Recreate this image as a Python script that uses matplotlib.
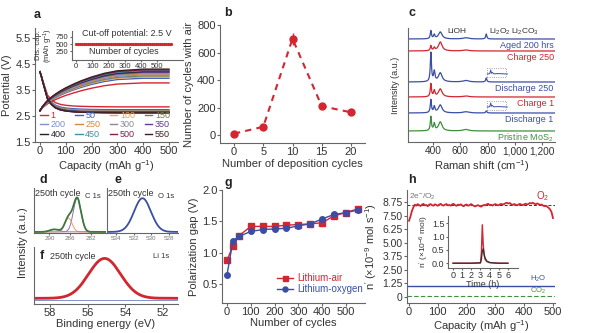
import numpy as np
import matplotlib
matplotlib.use("Agg")
import matplotlib.pyplot as plt
from matplotlib.patches import Rectangle

plt.rcParams['font.family'] = ['Liberation Sans', 'DejaVu Sans']
plt.rcParams['font.size'] = 8
plt.rcParams['axes.linewidth'] = 0.8
plt.rcParams['axes.edgecolor'] = '#666666'
plt.rcParams['axes.labelcolor'] = '#333333'
plt.rcParams['xtick.color'] = '#666666'
plt.rcParams['ytick.color'] = '#666666'
plt.rcParams['xtick.labelcolor'] = '#333333'
plt.rcParams['ytick.labelcolor'] = '#333333'
plt.rcParams['xtick.major.size'] = 2
plt.rcParams['ytick.major.size'] = 2
plt.rcParams['xtick.major.pad'] = 1.2
plt.rcParams['ytick.major.pad'] = 1.2
plt.rcParams['mathtext.default'] = 'regular'

RED = '#d22630'
BLUE = '#3b4ea6'
GREEN = '#3f8f3f'

# a: charge/discharge profiles (plateaus read at 500 mAh/g)
cycles_a = [1, 50, 100, 150, 200, 250, 300, 350, 400, 450, 500, 550]
colors_a = ['#d9262e', '#3d5fc0', '#eaa456', '#6f7f4f', '#7f8fcf', '#d5873a',
            '#8a8a9a', '#5f3f8f', '#202030', '#3f8fa6', '#7f1f50', '#3f2020']
charge_plateau = [3.77, 3.95, 4.00, 4.04, 4.08, 4.12, 4.15, 4.18, 4.21, 4.24, 4.27, 4.30]
discharge_plateau = [2.85, 2.74, 2.70, 2.69, 2.68, 2.67, 2.66, 2.65, 2.64, 2.63, 2.62, 2.62]
charge_start = 2.7
discharge_start = 4.2
cap_pts = [0, 5, 10, 20, 30, 45, 60, 80, 100, 130, 160, 200, 250, 300, 400, 500]
charge_shape = [0, 0.05, 0.1, 0.18, 0.25, 0.33, 0.4, 0.48, 0.55, 0.64, 0.72, 0.81, 0.9, 0.96, 1.0, 1.0]
discharge_shape = [1, 0.9, 0.78, 0.55, 0.33, 0.2, 0.12, 0.07, 0.045, 0.025, 0.015, 0.008, 0.003, 0, 0, 0]
inset_cycles = np.arange(1, 600, 12)
inset_cap = np.full(len(inset_cycles), 500)

# b
dep_cycles = [0, 5, 10, 15, 20]
air_cycles = [10, 60, 700, 210, 165]
air_err = [0, 0, 45, 0, 0]

# c: Raman peaks (position, width) and heights per trace
raman_labels = ['Aged 200 hrs', 'Charge 250', 'Discharge 250', 'Charge 1', 'Discharge 1', 'Pristine MoS$_2$']
raman_colors = [BLUE, RED, BLUE, RED, BLUE, GREEN]
raman_offset = [103, 91, 60, 45, 29, 11]
peak_pos = [383, 408, 452, 640, 790]
peak_w = [5, 6, 16, 25, 5]
peak_h = [[8, 4, 7, 1.2, 5],
          [5, 3, 9, 1.0, 0],
          [29, 10, 9, 1.5, 4],
          [13, 6, 8, 1.0, 0],
          [13, 6, 8, 1.2, 2],
          [14, 7, 9, 1.5, 0]]
box_base = [68, 35]
box_trace_x = [797, 815, 823, 828, 834, 845, 880, 945]
box_trace_y = [0, 0.3, 4.0, 0.8, 1.6, 0.2, 0.4, 0]

# d, e, f: XPS components (center, height, sigma)
c1s_center = [284.6, 286.3, 289.0]
c1s_height = [0.92, 0.38, 0.07]
c1s_sigma = [0.75, 0.7, 0.9]
c1s_colors = ['#8a6fc0', '#e8a060', '#c07090']
o1s = (531.0, 0.92, 0.95)
li1s = (55.1, 1.0, 0.85)

# g
cyc_g = [0, 25, 50, 100, 150, 200, 250, 300, 350, 400, 450, 500, 550]
gap_air = [0.88, 1.11, 1.27, 1.42, 1.42, 1.42, 1.44, 1.45, 1.46, 1.48, 1.59, 1.64, 1.70]
gap_oxy = [0.65, 1.19, 1.26, 1.34, 1.37, 1.38, 1.39, 1.43, 1.46, 1.54, 1.61, 1.64, 1.68]

# h
o2_rate = [7.05, 7.45, 7.95, 8.30, 8.55, 8.45, 8.60, 8.50, 8.42, 8.55, 8.62, 8.48, 8.52, 8.40,
           8.55, 8.60, 8.50, 8.45, 8.58, 8.52, 8.44, 8.56, 8.62, 8.50, 8.46, 8.55, 8.60, 8.48,
           8.52, 8.45, 8.58, 8.62, 8.50, 8.44, 8.55, 8.50, 8.58, 8.46, 8.40, 8.52, 8.56, 8.45,
           8.50, 8.60, 8.52, 8.44, 8.38, 8.46, 8.50, 8.42, 8.36, 8.45, 8.52, 8.48, 8.58, 8.62,
           8.50, 8.54, 8.46, 8.55, 8.60, 8.52, 8.48, 8.56, 8.62, 8.55, 8.60, 8.68, 8.72, 8.65,
           8.70, 8.58, 8.52, 8.60, 8.55, 8.48, 8.56, 8.62, 8.55, 8.50, 8.58, 8.64, 8.56, 8.62,
           8.70, 8.66, 8.72, 8.64, 8.58, 8.66, 8.60, 8.52, 8.56, 8.48, 8.40, 8.45, 8.35, 8.25,
           8.10, 7.85, 7.30]
cap_h = np.linspace(0, 500, len(o2_rate))
h2o_rate = 0.95
co2_rate = 0.05
theory_rate = 8.5
time_h = [0, 1, 2, 3.0, 3.1, 3.2, 3.3, 3.4, 3.5, 3.7, 4.0, 4.5, 5, 6]
o2_red = [0, 0, 0, 0.02, 0.4, 1.45, 0.7, 0.3, 0.15, 0.06, 0.02, 0.01, 0, 0]
o2_black = [0, 0, 0, 0.01, 0.15, 0.45, 0.55, 0.35, 0.2, 0.08, 0.03, 0.01, 0, 0]

W, H = 595, 333
fig = plt.figure(figsize=(W / 100, H / 100), dpi=100)


def px_axes(l, t, r, b):
    return fig.add_axes([l / W, 1 - b / H, (r - l) / W, (b - t) / H])


def clean(ax):
    ax.spines['top'].set_visible(False)
    ax.spines['right'].set_visible(False)


def letter(x, y, s):
    fig.text(x / W, 1 - y / H, s, fontsize=9, fontweight='bold', color='#222222',
             ha='center', va='center')


# ---------------- a
ax = px_axes(35, 28, 178, 142)
clean(ax)
for cyc, col, cp, dp in zip(cycles_a, colors_a, charge_plateau, discharge_plateau):
    ch = charge_start + (cp - charge_start) * np.array(charge_shape)
    dc = dp + (discharge_start - dp) * np.array(discharge_shape)
    ax.plot(cap_pts, ch, color=col, lw=1.0, label=str(cyc))
    ax.plot(cap_pts, dc, color=col, lw=1.0)
ax.set_xlim(-19, 535)
ax.set_ylim(1.5, 5.88)
ax.set_xticks([0, 100, 200, 300, 400, 500])
ax.set_yticks([1.5, 2.5, 3.5, 4.5, 5.5])
ax.set_xlabel('Capacity (mAh g$^{-1}$)', labelpad=1)
ax.set_ylabel('Potential (V)', labelpad=2)
hd, lb = ax.get_legend_handles_labels()
order = [c + 4 * r for c in range(4) for r in range(3)]
ax.legend([hd[i] for i in order], [lb[i] for i in order], ncol=4, loc='lower left',
          bbox_to_anchor=(0.0, -0.02), frameon=False, fontsize=6.5, handlelength=0.8,
          handletextpad=0.3, columnspacing=1.1, labelspacing=0.05, borderaxespad=0.2,
          labelcolor='linecolor')

ins = px_axes(72, 31, 183, 60)
ins.patch.set_alpha(0)
clean(ins)
ins.plot(inset_cycles, inset_cap, ls='none', marker='o', ms=1.3, color=RED)
ins.set_xlim(-25, 660)
ins.set_ylim(-50, 950)
ins.set_xticks([0, 100, 200, 300, 400, 500])
ins.set_yticks([250, 500, 750])
ins.tick_params(labelsize=5.5, length=1.5, pad=1)
ins.set_ylabel('Dis. cap.\n(mAh g$^{-1}$)', fontsize=5.5, labelpad=1, linespacing=0.9)
ins.text(0.49, 0.93, 'Cut-off potential: 2.5 V', transform=ins.transAxes, fontsize=6.5,
         ha='center', va='center', color='#333333')
ins.text(0.47, 0.28, 'Number of cycles', transform=ins.transAxes, fontsize=6.5,
         ha='center', va='center', color='#333333')
letter(37, 15, 'a')

# ---------------- b
ax = px_axes(220, 25, 365, 143)
clean(ax)
ax.errorbar(dep_cycles, air_cycles, yerr=air_err, fmt='none', ecolor=RED, elinewidth=1, capsize=0)
ax.plot(dep_cycles, air_cycles, ls='--', dashes=(3, 2.5), color=RED, lw=1.5)
ax.plot(dep_cycles, air_cycles, ls='none', marker='o', ms=5, color=RED)
ax.set_xlim(-2.4, 22.4)
ax.set_ylim(-58, 800)
ax.set_xticks([0, 5, 10, 15, 20])
ax.set_yticks([0, 200, 400, 600, 800])
ax.set_xlabel('Number of deposition cycles', labelpad=1)
ax.set_ylabel('Number of cycles with air', labelpad=2)
letter(228, 13, 'b')

# ---------------- c
ax = px_axes(408, 28, 555, 142)
clean(ax)
shift = np.linspace(215, 1295, 1500)
for lab, col, off, hts in zip(raman_labels, raman_colors, raman_offset, peak_h):
    y = np.full_like(shift, float(off))
    for p, w, hh in zip(peak_pos, peak_w, hts):
        y += hh * w ** 2 / ((shift - p) ** 2 + w ** 2)
    ax.plot(shift, y, color=col, lw=0.9)
    ax.text(1285, off - 6.5, lab, color=col, ha='right', va='center', fontsize=6.5)
for base in box_base:
    ax.add_patch(Rectangle((797, base - 3), 135, 9, fill=False, ls=':', ec='#888888', lw=0.6))
    ax.plot(box_trace_x, np.array(box_trace_y) + base, color=BLUE, lw=0.7)
ax.text(576, 110, 'LiOH', fontsize=6, ha='center', va='center', color='#333333')
ax.text(812, 110, 'Li$_2$O$_2$', fontsize=6, ha='left', va='center', color='#333333')
ax.text(1075, 110, 'Li$_2$CO$_3$', fontsize=6, ha='center', va='center', color='#333333')
ax.set_xlim(215, 1295)
ax.set_ylim(0, 114)
ax.set_yticks([])
ax.set_xticks([400, 600, 800, 1000, 1200])
ax.set_xticklabels(['400', '600', '800', '1,000', '1,200'])
ax.tick_params(axis='x', labelsize=7.3)
ax.set_xlabel('Raman shift (cm$^{-1}$)', labelpad=1)
ax.set_ylabel('Intensity (a.u.)', fontsize=6.5, labelpad=6)
letter(412, 13, 'c')

# ---------------- d
ax = px_axes(34, 188, 106, 233)
clean(ax)
be = np.linspace(279, 293, 400)
env = np.zeros_like(be)
for c0, hh, s, col in zip(c1s_center, c1s_height, c1s_sigma, c1s_colors):
    comp = hh * np.exp(-(be - c0) ** 2 / (2 * s ** 2))
    env += comp
    ax.plot(be, comp, color=col, lw=0.7)
ax.plot(be, env, color='#3a7a3a', lw=1.3)
ax.set_xlim(293, 279)
ax.set_ylim(-0.03, 1.2)
ax.set_yticks([])
ax.set_xticks([290, 286, 282])
ax.tick_params(axis='x', labelsize=4.5, length=1.5, pad=1, labelcolor='#777777')
ax.text(0.02, 0.97, '250th cycle', transform=ax.transAxes, fontsize=6.5, va='top', color='#333333')
ax.text(0.93, 0.88, 'C 1s', transform=ax.transAxes, fontsize=5.5, ha='right', va='top', color='#333333')
letter(43, 180, 'd')

# ---------------- e
ax = px_axes(107, 188, 178, 233)
clean(ax)
be = np.linspace(527, 535, 300)
ax.plot(be, o1s[1] * np.exp(-(be - o1s[0]) ** 2 / (2 * o1s[2] ** 2)), color=BLUE, lw=1.3)
ax.set_xlim(535, 527)
ax.set_ylim(-0.03, 1.2)
ax.set_yticks([])
ax.set_xticks([534, 532, 530, 528])
ax.tick_params(axis='x', labelsize=4.5, length=1.5, pad=1, labelcolor='#777777')
ax.text(0.02, 0.97, '250th cycle', transform=ax.transAxes, fontsize=6.5, va='top', color='#333333')
ax.text(0.95, 0.88, 'O 1s', transform=ax.transAxes, fontsize=5.5, ha='right', va='top', color='#333333')
letter(118, 180, 'e')

# ---------------- f
ax = px_axes(34, 247, 178, 304)
clean(ax)
be = np.linspace(51.2, 58.85, 400)
ax.plot(be, np.full_like(be, -0.05), color='#7080c0', lw=0.6)
ax.plot(be, li1s[1] * np.exp(-(be - li1s[0]) ** 2 / (2 * li1s[2] ** 2)), color=RED, lw=2)
ax.set_xlim(58.85, 51.2)
ax.set_ylim(-0.143, 1.286)
ax.set_yticks([])
ax.set_xticks([58, 56, 54, 52])
ax.set_xlabel('Binding energy (eV)', labelpad=0.5)
ax.text(0.11, 0.84, '250th cycle', transform=ax.transAxes, fontsize=6.5, va='center', color='#333333')
ax.text(0.94, 0.84, 'Li 1s', transform=ax.transAxes, fontsize=5.5, ha='right', va='center', color='#333333')
letter(42, 256, 'f')
fig.text(23 / W, 1 - 243 / H, 'Intensity (a.u.)', rotation=90, ha='center', va='center',
         fontsize=8, color='#333333')

# ---------------- g
ax = px_axes(222, 190, 365, 303)
clean(ax)
ax.plot(cyc_g, gap_air, '-s', color=RED, ms=4, lw=1, label='Lithium-air')
ax.plot(cyc_g, gap_oxy, '-o', color=BLUE, ms=4, lw=1, label='Lithium-oxygen')
ax.set_xlim(-21, 580)
ax.set_ylim(0.2, 2.0)
ax.set_xticks([0, 100, 200, 300, 400, 500])
ax.set_yticks([0.5, 1.0, 1.5, 2.0])
ax.set_xlabel('Number of cycles', labelpad=0.5)
ax.set_ylabel('Polarization gap (V)', labelpad=2)
ax.legend(loc='upper left', bbox_to_anchor=(0.36, 0.3), frameon=False, fontsize=7,
          handlelength=1.6, handletextpad=0.4, labelspacing=0.15, borderaxespad=0,
          labelcolor='linecolor', markerscale=0.9)
letter(228, 183, 'g')

# ---------------- h
ax = px_axes(407, 190, 555, 303)
clean(ax)
ax.axhline(theory_rate, color='#333333', lw=0.7, ls=(0, (3, 2)))
ax.plot(cap_h, o2_rate, color=RED, lw=1.3)
ax.axhline(h2o_rate, color=BLUE, lw=1.0)
ax.axhline(co2_rate, color=GREEN, lw=0.8, ls=(0, (4, 2)))
ax.set_xlim(-7, 507)
ax.set_ylim(-0.6, 9.91)
ax.set_xticks([0, 100, 200, 300, 400, 500])
ax.set_yticks([0, 1.25, 2.5, 3.75, 5.0, 6.25, 7.5, 8.75])
ax.set_yticklabels(['0', '1.25', '2.50', '3.75', '5.00', '6.25', '7.50', '8.75'])
ax.tick_params(axis='y', labelsize=7.5)
ax.set_xlabel('Capacity (mAh g$^{-1}$)', labelpad=0.5)
ax.set_ylabel("n$'$ (×10$^{-9}$ mol s$^{-1}$)", labelpad=2)
ax.text(45, 9.3, '2e$^{-}$/O$_2$', fontsize=6, color='#777777', ha='center', va='center')
ax.text(465, 9.3, 'O$_2$', fontsize=7, color=RED, ha='center', va='center')
ax.text(448, 1.6, 'H$_2$O', fontsize=5.5, color=BLUE, ha='center', va='center')
ax.text(448, 0.54, 'CO$_2$', fontsize=5.5, color=GREEN, ha='center', va='center')
letter(412, 180, 'h')

ins = px_axes(448, 216, 518, 268)
ins.patch.set_alpha(0)
clean(ins)
ins.plot(time_h, o2_red, color=RED, lw=1.0)
ins.plot(time_h, o2_black, color='#333333', lw=0.9)
ins.set_xlim(-0.55, 7.1)
ins.set_ylim(-0.18, 1.78)
ins.set_xticks([0, 1, 2, 3, 4, 5, 6])
ins.set_yticks([0.0, 0.5, 1.0, 1.5])
ins.tick_params(labelsize=6.5, length=1.5, pad=1)
ins.set_xlabel('Time (h)', fontsize=6.5, labelpad=0)
ins.set_ylabel("n$'$ (×10$^{-6}$ mol)", fontsize=6, labelpad=1)

fig.savefig('out.png', dpi=100, facecolor='white')
